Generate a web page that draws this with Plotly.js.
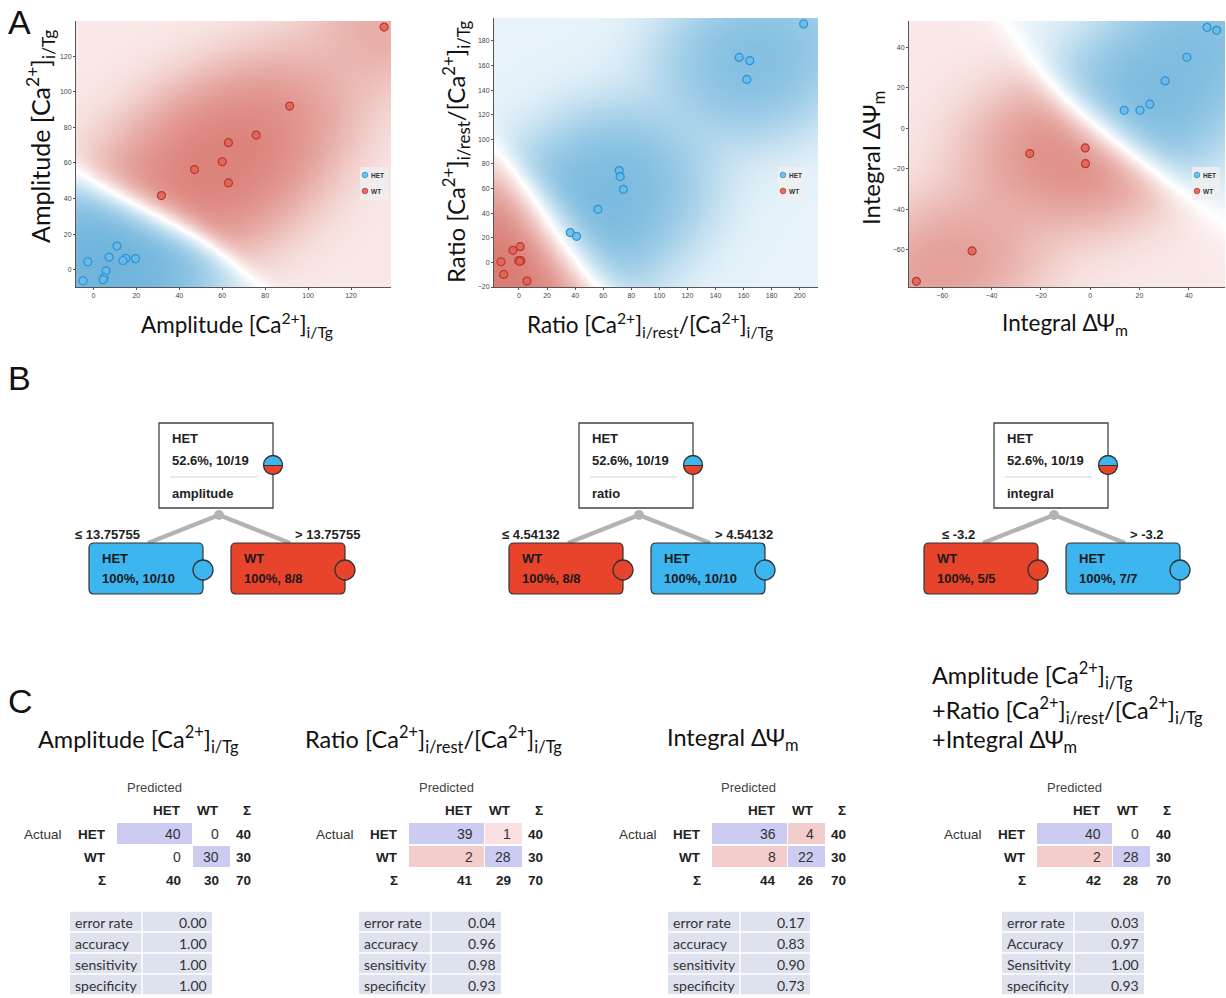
<!DOCTYPE html>
<html><head><meta charset="utf-8">
<script src="https://cdn.plot.ly/plotly-3.0.1.min.js"></script>
<style>html,body{margin:0;padding:0;background:#fff}</style>
</head><body><div id="chart" style="width:1226px;height:998px"></div>
<script>
// ---------------- DATA ----------------
// Panel A scatter points
const ampHetX = [-4.8, -2.6, 7.3, 11, 15.1, 13.8, 19.6, 5.9, 5, 4.5];
const ampHetY = [-6.2, 4.5, 7.1, 13.3, 6.4, 5.2, 6.2, -0.6, -4.3, -5.6];
const ampWtX = [135.4, 91.4, 75.8, 62.9, 60, 47.1, 62.9, 31.7];
const ampWtY = [136.4, 92, 75.7, 71.4, 60.7, 56.3, 48.8, 41.7];

const ratioHetX = [202.8, 156.8, 164.4, 162.3, 71.4, 72.1, 74.3, 56.2, 36.5, 41];
const ratioHetY = [193.8, 166.6, 163.9, 148.7, 74.6, 69.7, 59.4, 43.1, 24.2, 21.2];
const ratioWtX = [-12.8, -10.9, -4.3, 0.9, -0.2, 1.4, 5.7, 0.5];
const ratioWtY = [0.5, -9.8, 9.8, 12.8, 1.4, 1.4, -15.2, 0.8];

const intHetX = [47.4, 51.3, 39.2, 30.4, 24.2, 20.2, 13.8];
const intHetY = [49.9, 48.4, 35.1, 23.4, 11.9, 8.9, 8.9];
const intWtX = [-2, -1.9, -24.5, -47.9, -70.5];
const intWtY = [-9.7, -17.5, -12.5, -60.6, -75.6];

const classNames = ['HET', 'WT'];
const ampTicks = [0, 20, 40, 60, 80, 100, 120];
const ratioXTicks = [0, 20, 40, 60, 80, 100, 120, 140, 160, 180, 200];
const ratioYTicks = [-20, 0, 20, 40, 60, 80, 100, 120, 140, 160, 180];
const intTicks = [-60, -40, -20, 0, 20, 40];

// Panel B trees
const treeFeature = ['amplitude', 'ratio', 'integral'];
const treeThreshold = ['13.75755', '4.54132', '-3.2'];
const treeRootClass = ['HET', 'HET', 'HET'];
const treeRootStat = ['52.6%, 10/19', '52.6%, 10/19', '52.6%, 10/19'];
const treeRootHetShare = [10 / 19, 10 / 19, 10 / 19];
const treeLeftClass = ['HET', 'WT', 'WT'];
const treeLeftStat = ['100%, 10/10', '100%, 8/8', '100%, 5/5'];
const treeRightClass = ['WT', 'HET', 'HET'];
const treeRightStat = ['100%, 8/8', '100%, 10/10', '100%, 7/7'];

// Panel C confusion matrices [[HET->HET, HET->WT],[WT->HET, WT->WT]]
const tableTitles = [
  ['Amplitude [Ca<sup>2+</sup>]<sub>i/Tg</sub>'],
  ['Ratio [Ca<sup>2+</sup>]<sub>i/rest</sub>/[Ca<sup>2+</sup>]<sub>i/Tg</sub>'],
  ['Integral ΔΨ<sub>m</sub>'],
  ['Amplitude [Ca<sup>2+</sup>]<sub>i/Tg</sub>', '+Ratio [Ca<sup>2+</sup>]<sub>i/rest</sub>/[Ca<sup>2+</sup>]<sub>i/Tg</sub>', '+Integral ΔΨ<sub>m</sub>']
];
const confAmp = [[40, 0], [0, 30]];
const confRatio = [[39, 1], [2, 28]];
const confIntegral = [[36, 4], [8, 22]];
const confCombined = [[40, 0], [2, 28]];
const metricLabels = [
  ['error rate', 'accuracy', 'sensitivity', 'specificity'],
  ['error rate', 'accuracy', 'sensitivity', 'specificity'],
  ['error rate', 'accuracy', 'sensitivity', 'specificity'],
  ['error rate', 'Accuracy', 'Sensitivity', 'specificity']
];
const metricsAmp = [0.00, 1.00, 1.00, 1.00];
const metricsRatio = [0.04, 0.96, 0.98, 0.93];
const metricsIntegral = [0.17, 0.83, 0.90, 0.73];
const metricsCombined = [0.03, 0.97, 1.00, 0.93];

// ---------------- LAYOUT HELPERS ----------------
const W = 1226, H = 998;
const px = x => x / W;
const py = y => 1 - y / H;
const SANS = 'Liberation Sans, Arial, sans-serif';
const CAL = 'Lato, Open Sans, sans-serif';
const BLUE_BOX = '#3db5ef', RED_BOX = '#e8442b';

const shapes = [];
const annotations = [];

function txt(x, y, text, o = {}) {
  annotations.push({
    xref: 'paper', yref: 'paper', x: px(x), y: py(y), text: text, showarrow: false,
    xanchor: o.xa || 'left', yanchor: o.ya || 'middle', textangle: o.angle || 0,
    font: { family: o.family || SANS, size: o.size || 13, color: o.color || '#222', weight: o.weight || 'normal' }
  });
}
function rect(x0, y0, x1, y1, fill, lc, lw) {
  shapes.push({ type: 'rect', xref: 'paper', yref: 'paper', x0: px(x0), x1: px(x1), y0: py(y1), y1: py(y0),
    fillcolor: fill, line: { color: lc || 'rgba(0,0,0,0)', width: lw || 0 }, layer: 'above' });
}
function circle(cx, cy, r, fill, lc, lw) {
  shapes.push({ type: 'circle', xref: 'paper', yref: 'paper', x0: px(cx - r), x1: px(cx + r), y0: py(cy + r), y1: py(cy - r),
    fillcolor: fill, line: { color: lc || 'rgba(0,0,0,0)', width: lw || 0 }, layer: 'above' });
}
function line(x0, y0, x1, y1, c, w) {
  shapes.push({ type: 'line', xref: 'paper', yref: 'paper', x0: px(x0), x1: px(x1), y0: py(y0), y1: py(y1),
    line: { color: c, width: w }, layer: 'above' });
}
function poly(pts, fill, lc, lw) {
  const d = 'M' + pts.map(p => px(p[0]) + ',' + py(p[1])).join(' L') + ' Z';
  shapes.push({ type: 'path', xref: 'paper', yref: 'paper', path: d, fillcolor: fill,
    line: { color: lc || 'rgba(0,0,0,0)', width: lw || 0 }, layer: 'above' });
}
function roundRect(x0, y0, x1, y1, r, fill, lc, lw) {
  const P = (x, y) => px(x) + ',' + py(y);
  const d = `M${P(x0 + r, y0)} L${P(x1 - r, y0)} Q${P(x1, y0)} ${P(x1, y0 + r)} L${P(x1, y1 - r)} Q${P(x1, y1)} ${P(x1 - r, y1)} L${P(x0 + r, y1)} Q${P(x0, y1)} ${P(x0, y1 - r)} L${P(x0, y0 + r)} Q${P(x0, y0)} ${P(x0 + r, y0)} Z`;
  shapes.push({ type: 'path', xref: 'paper', yref: 'paper', path: d, fillcolor: fill,
    line: { color: lc, width: lw }, layer: 'above' });
}

// ---------------- PANEL A ----------------
// class-density background derived from the plotted points
const SIG_P = 0.1, SIG_A = 0.15, K_A = 1.2;
function classField(hx, hy, wx, wy, xr, yr) {
  const N = 100, xs = [], ys = [], z = [];
  for (let i = 0; i < N; i++) { xs.push(xr[0] + (xr[1] - xr[0]) * i / (N - 1)); ys.push(yr[0] + (yr[1] - yr[0]) * i / (N - 1)); }
  const sx = xr[1] - xr[0], sy = yr[1] - yr[0];
  const g = (d2, s) => Math.exp(-d2 / (2 * s * s));
  for (const y of ys) {
    const row = [];
    for (const x of xs) {
      let db = 0, dr = 0, ta = 0;
      for (let k = 0; k < hx.length; k++) { const dx = (x - hx[k]) / sx, dy = (y - hy[k]) / sy, d2 = dx * dx + dy * dy; db += g(d2, SIG_P); ta += g(d2, SIG_A); }
      for (let k = 0; k < wx.length; k++) { const dx = (x - wx[k]) / sx, dy = (y - wy[k]) / sy, d2 = dx * dx + dy * dy; dr += g(d2, SIG_P); ta += g(d2, SIG_A); }
      const p = (dr - db) / (dr + db + 1e-300);
      const a = ta / (ta + K_A);
      row.push(p * (0.15 + 0.85 * a));
    }
    z.push(row);
  }
  return { xs, ys, z };
}
const bgScale = [[0, 'rgb(96,172,216)'], [0.5, 'rgb(255,255,255)'], [1, 'rgb(212,104,94)']];

const panels = [
  { hx: ampHetX, hy: ampHetY, wx: ampWtX, wy: ampWtY, xr: [-8.1, 138.6], yr: [-9.7, 139.8], xt: ampTicks, yt: ampTicks, dom: [76, 391, 21, 287] },
  { hx: ratioHetX, hy: ratioHetY, wx: ratioWtX, wy: ratioWtY, xr: [-17.8, 213], yr: [-20, 198.6], xt: ratioXTicks, yt: ratioYTicks, dom: [494, 818, 18, 287] },
  { hx: intHetX, hy: intHetY, wx: intWtX, wy: intWtY, xr: [-73.5, 54.7], yr: [-78.4, 53], xt: intTicks, yt: intTicks, dom: [909, 1225, 21, 287] }
];

const traces = [];
const layout = {
  width: W, height: H, margin: { l: 0, r: 0, t: 0, b: 0 }, paper_bgcolor: '#fff', plot_bgcolor: '#fff',
  showlegend: false, shapes, annotations, font: { family: SANS }
};

panels.forEach((p, i) => {
  const sfx = i === 0 ? '' : String(i + 1);
  const f = classField(p.hx, p.hy, p.wx, p.wy, p.xr, p.yr);
  traces.push({ type: 'heatmap', x: f.xs, y: f.ys, z: f.z, zmin: -1, zmax: 1, colorscale: bgScale, zsmooth: 'best',
    showscale: false, hoverinfo: 'skip', xaxis: 'x' + sfx, yaxis: 'y' + sfx });
  traces.push({ type: 'scatter', mode: 'markers', name: classNames[0], x: p.hx, y: p.hy, xaxis: 'x' + sfx, yaxis: 'y' + sfx,
    marker: { size: 8, color: 'rgba(100,188,236,0.85)', line: { color: 'rgb(50,145,205)', width: 1.2 } } });
  traces.push({ type: 'scatter', mode: 'markers', name: classNames[1], x: p.wx, y: p.wy, xaxis: 'x' + sfx, yaxis: 'y' + sfx,
    marker: { size: 8, color: 'rgba(228,96,80,0.85)', line: { color: 'rgb(180,60,50)', width: 1.2 } } });
  const ax = { showline: true, linecolor: '#555', linewidth: 1, ticks: 'outside', ticklen: 2, tickcolor: '#555',
    tickfont: { size: 7, color: '#444', family: SANS }, showgrid: false, zeroline: false, fixedrange: true };
  layout['xaxis' + sfx] = Object.assign({}, ax, { domain: [px(p.dom[0]), px(p.dom[1])], range: p.xr, tickvals: p.xt, anchor: 'y' + sfx });
  layout['yaxis' + sfx] = Object.assign({}, ax, { domain: [py(p.dom[3]), py(p.dom[2])], range: p.yr, tickvals: p.yt, anchor: 'x' + sfx });
  // small legend box
  const lx = [360, 778, 1192][i];
  rect(lx, 167, lx + 28, 200, 'rgba(238,238,240,0.85)');
  circle(lx + 5, 175, 2.8, 'rgba(100,188,236,0.9)', 'rgb(50,145,205)', 0.8);
  circle(lx + 5, 191, 2.8, 'rgba(228,96,80,0.9)', 'rgb(180,60,50)', 0.8);
  txt(lx + 9, 175, classNames[0], { size: 6.5, color: '#333', weight: 'bold' });
  txt(lx + 9, 191, classNames[1], { size: 6.5, color: '#333', weight: 'bold' });
});

const ampT = 'Amplitude [Ca<sup>2+</sup>]<sub>i/Tg</sub>';
const ratT = 'Ratio [Ca<sup>2+</sup>]<sub>i/rest</sub>/[Ca<sup>2+</sup>]<sub>i/Tg</sub>';
const intT = 'Integral ΔΨ<sub>m</sub>';
txt(237, 324, ampT, { xa: 'center', size: 22.5, family: CAL, color: '#111' });
txt(650, 324, ratT, { xa: 'center', size: 22.5, family: CAL, color: '#111' });
txt(1065, 324, intT, { xa: 'center', size: 22.5, family: CAL, color: '#111' });
txt(41, 137, ampT, { xa: 'center', size: 25, family: CAL, color: '#111', angle: -90 });
txt(456, 152, ratT, { xa: 'center', size: 24, family: CAL, color: '#111', angle: -90 });
txt(872, 158, intT, { xa: 'center', size: 24, family: CAL, color: '#111', angle: -90 });

// panel letters
txt(6, 22, 'A', { size: 34, color: '#111' });
txt(6, 378, 'B', { size: 34, color: '#111' });
txt(6, 701, 'C', { size: 34, color: '#111' });

// ---------------- PANEL B ----------------
const rootX = [159, 579, 994];
function pie(cx, cy, r, share) {
  circle(cx, cy, r, RED_BOX);
  const d = 2 * share - 1; // blue on top
  const a = Math.asin(Math.max(-1, Math.min(1, d)));
  const pts = [];
  const n = 40;
  for (let k = 0; k <= n; k++) { const t = -Math.PI - a + (Math.PI + 2 * a) * k / n; pts.push([cx + r * Math.cos(t), cy + r * Math.sin(t)]); }
  poly(pts, BLUE_BOX);
  line(cx - r * Math.cos(a), cy + r * d, cx + r * Math.cos(a), cy + r * d, '#333', 1);
  circle(cx, cy, r, 'rgba(0,0,0,0)', '#333', 1.3);
}
function childBox(x0, cls, stat) {
  const fill = cls === 'HET' ? BLUE_BOX : RED_BOX;
  roundRect(x0, 543, x0 + 114, 594, 5, fill, '#333', 1.2);
  circle(x0 + 114, 570, 10, fill, '#333', 1.3);
  txt(x0 + 11, 558, cls, { size: 13, weight: 'bold', color: '#1a1a1a' });
  txt(x0 + 11, 578, stat, { size: 13, weight: 'bold', color: '#1a1a1a' });
}
rootX.forEach((x0, i) => {
  const lx = x0 - 70, rx = x0 + 72, dotX = x0 + 60;
  line(dotX, 515, lx + 59, 543, '#b3b3b3', 4.5);
  line(dotX, 515, rx + 59, 543, '#b3b3b3', 4.5);
  rect(x0, 423, x0 + 114, 508, '#fff', '#444', 1.3);
  line(x0 + 11, 477, x0 + 98, 477, '#d2d2d2', 1);
  txt(x0 + 11, 439, treeRootClass[i], { size: 13, weight: 'bold', color: '#222' });
  txt(x0 + 11, 460, treeRootStat[i], { size: 13, weight: 'bold', color: '#222' });
  txt(x0 + 11, 493, treeFeature[i], { size: 13, weight: 'bold', color: '#222' });
  pie(x0 + 114, 465, 9.5, treeRootHetShare[i]);
  circle(dotX, 515, 5, '#b3b3b3');
  childBox(lx, treeLeftClass[i], treeLeftStat[i]);
  childBox(rx, treeRightClass[i], treeRightStat[i]);
  txt(lx + 53, 534, '≤ ' + treeThreshold[i], { xa: 'right', size: 13, weight: 'bold', color: '#222' });
  txt(rx + 62, 534, '> ' + treeThreshold[i], { xa: 'left', size: 13, weight: 'bold', color: '#222' });
});

// ---------------- PANEL C ----------------
const confs = [confAmp, confRatio, confIntegral, confCombined];
const metrics = [metricsAmp, metricsRatio, metricsIntegral, metricsCombined];
const rowLabelRight = [108, 400, 703, 1028];
const titleLeft = [36, 303, 665, 930];
const titleY = [[739], [739], [739], [675, 710, 741]];
const metricX = [70, 359, 668, 1002];
const LAV = 'rgb(204,204,242)';

confs.forEach((m, t) => {
  const R = rowLabelRight[t];
  tableTitles[t].forEach((tt, k) => txt(titleLeft[t], titleY[t][k], tt, { size: 23.5, family: CAL, color: '#111' }));
  txt(R + 46, 787, 'Predicted', { xa: 'center', size: 13, color: '#444' });
  const colR = [R + 75, R + 113, R + 145];
  const colX = [[R + 9, R + 84], [R + 85, R + 122]];
  const rowY = [834, 857, 880];
  const rowBox = [[823, 844], [846, 867]];
  txt(colR[0], 810, classNames[0], { xa: 'right', size: 13.5, weight: 'bold' });
  txt(colR[1], 810, classNames[1], { xa: 'right', size: 13.5, weight: 'bold' });
  txt(colR[2], 810, 'Σ', { xa: 'right', size: 13.5, weight: 'bold' });
  txt(R - 44, rowY[0], 'Actual', { xa: 'right', size: 13.5, color: '#333' });
  txt(R, rowY[0], classNames[0], { xa: 'right', size: 13.5, weight: 'bold' });
  txt(R, rowY[1], classNames[1], { xa: 'right', size: 13.5, weight: 'bold' });
  txt(R, rowY[2], 'Σ', { xa: 'right', size: 13.5, weight: 'bold' });
  for (let i = 0; i < 2; i++) {
    const rs = m[i][0] + m[i][1];
    for (let j = 0; j < 2; j++) {
      const v = m[i][j];
      let fill = null;
      if (i === j && v > 0) fill = LAV;
      else if (v > 0) fill = v / rs < 0.05 ? 'rgb(250,224,224)' : 'rgb(243,204,204)';
      if (fill) rect(colX[j][0], rowBox[i][0], colX[j][1], rowBox[i][1], fill);
      txt(colR[j], rowY[i], String(v), { xa: 'right', size: 14, color: '#333' });
    }
    txt(colR[2], rowY[i], String(rs), { xa: 'right', size: 13.5, weight: 'bold' });
  }
  const c0 = m[0][0] + m[1][0], c1 = m[0][1] + m[1][1];
  txt(colR[0], rowY[2], String(c0), { xa: 'right', size: 13.5, weight: 'bold' });
  txt(colR[1], rowY[2], String(c1), { xa: 'right', size: 13.5, weight: 'bold' });
  txt(colR[2], rowY[2], String(c0 + c1), { xa: 'right', size: 13.5, weight: 'bold' });

  // metrics table
  const mx = metricX[t];
  metrics[t].forEach((v, k) => {
    const y0 = 911 + 21 * k;
    rect(mx, y0 + 0.7, mx + 71.3, y0 + 20.3, 'rgb(221,226,238)');
    rect(mx + 72.7, y0 + 0.7, mx + 142, y0 + 20.3, 'rgb(221,226,238)');
    txt(mx + 3, y0 + 11, metricLabels[t][k], { size: 14, family: CAL, color: '#333' });
    txt(mx + 139, y0 + 11, v.toFixed(2), { xa: 'right', size: 14, family: CAL, color: '#333' });
  });
});

Plotly.newPlot('chart', traces, layout, { displayModeBar: false, staticPlot: true });
</script></body></html>
